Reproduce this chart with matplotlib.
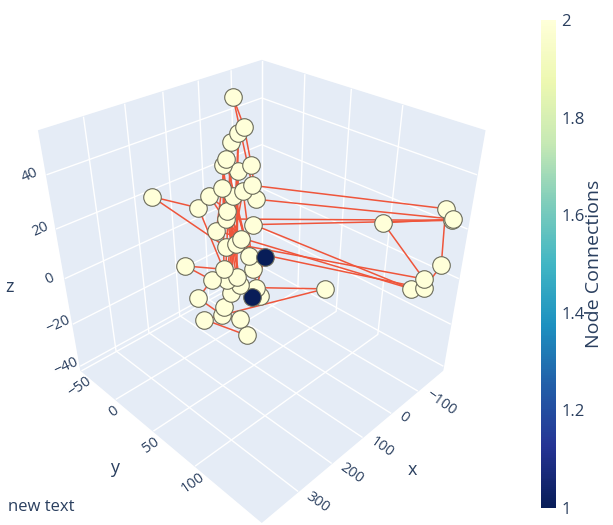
import numpy as np
import matplotlib
matplotlib.use("Agg")
import matplotlib.pyplot as plt
from matplotlib import cm
import matplotlib.colors as mcolors

plt.rcParams["font.family"] = ["Open Sans", "DejaVu Sans"]

# node positions, listed in the order of the path that joins them
node_x = [-15, 14, -98, 128, 66, 68, 91, 119, 86, 120,
          59, 61, 310, 40, -156, -175, -181, -41, -64, -64,
          -52, -40, -175, -125, -162,
          21, -51, 61, -32, 82, -5, 41, 9, 42, -28,
          60, -24, 8, -6, 8, 35, 14, 10, 22, -188,
          -20, -150, 46, -14, 14, 32]
node_y = [21, 21, 65, -2, 28, 20, 6, -13, -8, -28,
          -3, -32, 30, -7, 150, 158, 153, -4, -35, -22,
          -9, 1, 162, 112, 147,
          -1, -24, 7, -26, 6, -26, 11, -22, 7, -16,
          1, -9, 15, -14, 10, -28, -14, 1, -13, 158,
          5, 139, -16, -26, 25, 22]
node_z = [-7, -19, -19, -30, -36, -30, -29, -23, -16, -11,
          -12, 10, 40, -4, -5, 5, 26, 18, 48, 38,
          25, 13, 24, 17, -2,
          -3, 36, -21, 33, -26, 25, -18, 17, -15, 23,
          -16, 16, -12, 14, -7, 14, 9, -1, 6, 22,
          4, -7, 2, 27, -22, -22]

# each node is linked to the next one
edges = [(i, i + 1) for i in range(len(node_x) - 1)]

x_ticks = [-100, 0, 100, 200, 300]
y_ticks = [-50, 0, 50, 100]
z_ticks = [-40, -20, 0, 20, 40]
cbar_ticks = [1, 1.2, 1.4, 1.6, 1.8, 2]

font_color = "#2a3f5f"
pane_color = "#e5ecf6"
edge_color = "#ef553b"

degree = np.zeros(len(node_x))
for a, b in edges:
    degree[a] += 1
    degree[b] += 1

cmap = plt.get_cmap("YlGnBu_r")
norm = mcolors.Normalize(vmin=1, vmax=2)

fig = plt.figure(figsize=(6.13, 5.25), dpi=100)
ax = fig.add_axes([-0.035, -0.035, 0.9, 1.04], projection="3d")
ax.set_proj_type("persp", focal_length=0.25)
ax.view_init(elev=33, azim=45)
ax.set_box_aspect((1, 1, 1), zoom=0.87)

for a, b in edges:
    ax.plot([node_x[a], node_x[b]], [node_y[a], node_y[b]],
            [node_z[a], node_z[b]], color=edge_color, linewidth=1.1)

for i in range(len(node_x)):
    ax.scatter([node_x[i]], [node_y[i]], [node_z[i]], s=160,
               color=cmap(norm(degree[i])), edgecolors="#6b6b5a",
               linewidths=0.8, depthshade=False)

ax.set_xlim(-200, 400)
ax.set_ylim(-51, 170)
ax.set_zlim(-42, 55)
ax.set_xticks(x_ticks)
ax.set_yticks(y_ticks)
ax.set_zticks(z_ticks)

for axis in (ax.xaxis, ax.yaxis, ax.zaxis):
    axis.set_pane_color(mcolors.to_rgba(pane_color))
    axis.pane.set_edgecolor(pane_color)
    axis.line.set_color((1, 1, 1, 0))
    axis._axinfo["grid"].update(color="white", linewidth=1.0)
    axis._axinfo["tick"].update(inward_factor=0, outward_factor=0)

ax.tick_params(axis="both", colors=font_color, labelsize=10.5)
ax.xaxis.set_tick_params(pad=-3)
ax.yaxis.set_tick_params(pad=-6)
ax.zaxis.set_tick_params(pad=0)

# plotly turns the tick labels along the axes
for t in ax.get_xticklabels():
    t.set(rotation=-35, rotation_mode="anchor", ha="left", va="bottom")
for t in ax.get_yticklabels():
    t.set_rotation(35)
for t in ax.get_zticklabels():
    t.set(rotation=25, rotation_mode="anchor", ha="center", va="center")

# axis titles sit where plotly put them
fig.text(412 / 613, 1 - 470 / 525, "x", fontsize=13, color=font_color,
         ha="center", va="center")
fig.text(115 / 613, 1 - 468 / 525, "y", fontsize=13, color=font_color,
         ha="center", va="center")
fig.text(9 / 613, 1 - 287 / 525, "z", fontsize=13, color=font_color,
         ha="center", va="center")

cax = fig.add_axes([541 / 613, 17 / 525, 15 / 613, 488 / 525])
cb = fig.colorbar(cm.ScalarMappable(norm=norm, cmap=cmap), cax=cax,
                  ticks=cbar_ticks)
cb.outline.set_visible(False)
cb.ax.tick_params(length=0, labelsize=12, colors=font_color, pad=4)
cb.ax.set_yticklabels(["1", "1.2", "1.4", "1.6", "1.8", "2"])
cb.set_label("Node Connections", color=font_color, fontsize=14, labelpad=0)

fig.text(8 / 613, 1 - 507 / 525, "new text", fontsize=12, color=font_color,
         va="center")

fig.savefig("out.png", dpi=100, facecolor="white")
